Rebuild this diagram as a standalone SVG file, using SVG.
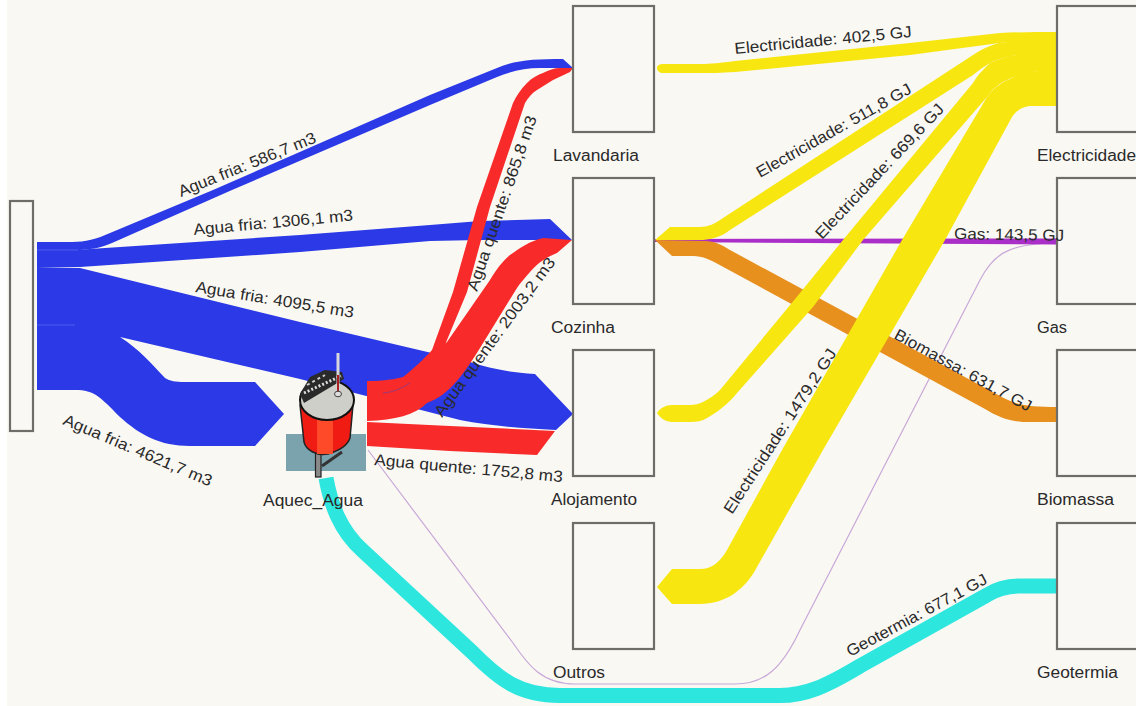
<svg xmlns="http://www.w3.org/2000/svg" width="1136" height="706" viewBox="0 0 1136 706">
<style>
text{font-family:"Liberation Sans",Arial,sans-serif;font-size:16px;fill:#2a2a2a}
.box{fill:#faf8f4;stroke:#6f6d68;stroke-width:2.2}
.blue{fill:#2b3ae6}.red{fill:#f82a2a}.yel{fill:#f7e60f}.org{fill:#e8901e}
</style>
<rect width="1136" height="706" fill="#ffffff"/>
<rect x="7" y="0" width="1129" height="706" fill="#faf8f3"/>
<g id="connectors">
<path d="M368 450L513 643C528 665 542 684 575 684L735 684C765 684 782 668 800 630L980 280C992 257 1005 243 1057 243" fill="none" stroke="#c8a8d8" stroke-width="1.2"/>
<path d="M1057 586H1020C1005 586 995 590 987 595L860 666C825 687 805 695.500 780 695.500H560C520 695.500 500 680 473 653L362 550C340 530 331 505 326 478" fill="none" stroke="#2de6de" stroke-width="15"/>
<path d="M655 239L1057 238.500V244.500L655 242Z" fill="#a92fc8"/>
<path class="org" d="M655 240L705 241C715 241 722 245 730 250L1000 396C1018 406 1030 407 1057 407V422H1030C1010 422 1000 418 985 409L716 263C705 257 700 256 690 256H672Z"/>
<path class="blue" d="M37 242H72C85 242 97 239 110 233L213 190L430 95L497 68C515 60 535 59 563 59L573 68H540C525 68 512 71 497 77L430 105L232 190L112 243C100 248 90 250 75 250H37Z"/>
<path class="blue" d="M37 250H75L300 235L430 225L480 221L550 219L572 240L480 240L430 241L300 252L80 267L37 268Z"/>
<path class="blue" d="M37 268H80L300 322L470 362C490 368 505 372 535 374L573 414L556 430C520 428 490 426 460 420L300 379L120 337C140 350 150 362 165 378C170 381 175 382 185 382H255L284 414L255 446H190C160 446 140 435 120 417C100 397 95 390 75 390H37Z"/>
<path d="M37 250H78M37 325H75" stroke="#5a66f0" stroke-width="0.8" fill="none"/>
<path class="red" d="M367 393C385 393 400 388 412 380C425 370 432 360 437 350L447 342L490 280C497 268 503 261 510 255C520 248 530 241 543 238L572 240L557 253C545 258 538 263 530 272C525 278 520 283 517 288L480 348C465 372 450 395 427 403C415 415 395 420 367 421Z"/>
<path class="red" d="M367 381C385 381 395 379 403 377C412 370 425 358 432 350L453 292L477 207L513 103C517 95 521 89 527 83C532 78 537 75 543 73C549 70 554 68 560 68H573L570 72L553 80L537 90C532 93 528 98 525 103L490 207L467 292L442 352C430 375 415 385 403 391C390 394 380 394 367 394Z"/>
<path d="M383 393C395 392 402 388 410 383" stroke="#9a3a7a" stroke-width="1" fill="none"/>
<path class="red" d="M367 422L450 426L555 431L537 455L450 451L367 446Z"/>
<path class="yel" d="M657 68C657 65 660 64 663 64H700C712 64 720 63 735 61L910 43L1000 33C1020 32 1040 32 1057 32V42H1007L910 55L735 72C720 73 712 73 700 73H663C660 73 657 71 657 68Z"/>
<path class="yel" d="M655 240L670 227H700C708 227 714 224 720 220L973 55C985 47 995 43 1007 42H1057V55H1017C1005 57 998 59 990 63C985 66 979 70 973 75L730 230C720 238 708 240 700 240Z"/>
<path class="yel" d="M657 413C660 408 666 405 672 405H690C695 405 699 404 703 402C710 398 715 395 720 390L800 293L843 240L973 83C979 73 985 68 990 63C998 59 1007 56 1017 55H1057V71H1038C1027 73 1015 76 1007 80C998 84 992 90 987 97L863 240L813 307L737 393C732 399 728 403 723 407C717 412 712 415 707 418C702 421 697 422 690 422H672C666 422 660 418 657 413Z"/>
<path class="yel" d="M657 587L672 569H700C712 569 720 562 727 550L782 450L902 240L987 97C995 86 1003 82 1012 78C1020 74 1030 71 1038 71L1057 70V106H1030C1022 107 1017 110 1012 117L945 240L823 450L757 567C745 590 725 604 700 604H672Z"/>
</g>
<g id="node-fonte"><rect class="box" x="10" y="201" width="23" height="230"/></g>
<g id="node-lavandaria"><rect class="box" x="573" y="6" width="81" height="126"/><text x="553" y="161" textLength="86" lengthAdjust="spacingAndGlyphs">Lavandaria</text></g>
<g id="node-cozinha"><rect class="box" x="573" y="178" width="81" height="126"/><text x="551" y="333" textLength="64" lengthAdjust="spacingAndGlyphs">Cozinha</text></g>
<g id="node-alojamento"><rect class="box" x="573" y="350" width="81" height="126"/><text x="551" y="505" textLength="86" lengthAdjust="spacingAndGlyphs">Alojamento</text></g>
<g id="node-outros"><rect class="box" x="573" y="523" width="81" height="126"/><text x="553" y="678" textLength="52" lengthAdjust="spacingAndGlyphs">Outros</text></g>
<g id="node-electricidade"><rect class="box" x="1057" y="6" width="90" height="126"/><text x="1037" y="161" textLength="99" lengthAdjust="spacingAndGlyphs">Electricidade</text></g>
<g id="node-gas"><rect class="box" x="1057" y="178" width="90" height="126"/><text x="1037" y="333" textLength="30" lengthAdjust="spacingAndGlyphs">Gas</text></g>
<g id="node-biomassa"><rect class="box" x="1057" y="350" width="90" height="126"/><text x="1037" y="505" textLength="77" lengthAdjust="spacingAndGlyphs">Biomassa</text></g>
<g id="node-geotermia"><rect class="box" x="1057" y="523" width="90" height="126"/><text x="1037" y="678" textLength="81" lengthAdjust="spacingAndGlyphs">Geotermia</text></g>
<g id="node-aquec-agua">
<rect x="286" y="434" width="80" height="37" fill="#7ba3ae"/>
<rect x="315.500" y="450" width="5.500" height="27" fill="#8a8a8a" stroke="#222" stroke-width="1.200"/>
<path d="M322 466L342 452" stroke="#333" stroke-width="3" fill="none"/>
<path d="M300 405L353 405L350 438C347 447 338 451 328 454C316 456 306 450 304 442Z" fill="#f01c14" stroke="#222" stroke-width="1.500"/>
<path d="M317 415H333V454H317Z" fill="#ff4a2a"/>
<ellipse cx="327" cy="400" rx="27" ry="20" fill="#cfcfca" stroke="#111" stroke-width="2"/>
<path d="M300 394L310 377L325 370L342 372L344 379L304 403Z" fill="#2a2a2a"/>
<path d="M304 393L341 376" stroke="#ddd" stroke-width="3" stroke-dasharray="2 2" fill="none"/>
<path d="M307 385L325 375" stroke="#ccc" stroke-width="2" stroke-dasharray="3 3" fill="none"/>
<rect x="336.500" y="353" width="3" height="44" fill="#d8d8dc"/>
<rect x="337" y="375" width="2" height="22" fill="#a82020"/>
<ellipse cx="338" cy="394" rx="3.500" ry="2.800" fill="#ddd" stroke="#444"/>
<text x="263" y="506" textLength="100" lengthAdjust="spacingAndGlyphs">Aquec_Agua</text>
</g>
<g id="flow-labels">
<text transform="translate(181 197) rotate(-22)" textLength="147" lengthAdjust="spacingAndGlyphs">Agua fria: 586,7 m3</text>
<text transform="translate(194 235) rotate(-5.200)" textLength="160" lengthAdjust="spacingAndGlyphs">Agua fria: 1306,1 m3</text>
<text transform="translate(195 292) rotate(9.300)" textLength="160" lengthAdjust="spacingAndGlyphs">Agua fria: 4095,5 m3</text>
<text transform="translate(62 424) rotate(23)" textLength="160" lengthAdjust="spacingAndGlyphs">Agua fria: 4621,7 m3</text>
<text transform="translate(477 292) rotate(-71)" textLength="184" lengthAdjust="spacingAndGlyphs">Agua quente: 865,8 m3</text>
<text transform="translate(442 418) rotate(-53.800)" textLength="193" lengthAdjust="spacingAndGlyphs">Agua quente: 2003,2 m3</text>
<text transform="translate(374 465) rotate(5.200)" textLength="189" lengthAdjust="spacingAndGlyphs">Agua quente: 1752,8 m3</text>
<text transform="translate(735 54) rotate(-5.500)" textLength="178" lengthAdjust="spacingAndGlyphs">Electricidade: 402,5 GJ</text>
<text transform="translate(760 178) rotate(-29.300)" textLength="175" lengthAdjust="spacingAndGlyphs">Electricidade: 511,8 GJ</text>
<text transform="translate(822 240) rotate(-46.600)" textLength="179" lengthAdjust="spacingAndGlyphs">Electricidade: 669,6 GJ</text>
<text transform="translate(954 239) rotate(1)" textLength="110" lengthAdjust="spacingAndGlyphs">Gas: 143,5 GJ</text>
<text transform="translate(732 515) rotate(-57)" textLength="193" lengthAdjust="spacingAndGlyphs">Electricidade: 1479,2 GJ</text>
<text transform="translate(893 338) rotate(28.700)" textLength="154" lengthAdjust="spacingAndGlyphs">Biomassa: 631,7 GJ</text>
<text transform="translate(850 657) rotate(-28.200)" textLength="157" lengthAdjust="spacingAndGlyphs">Geotermia: 677,1 GJ</text>
</g>
</svg>
